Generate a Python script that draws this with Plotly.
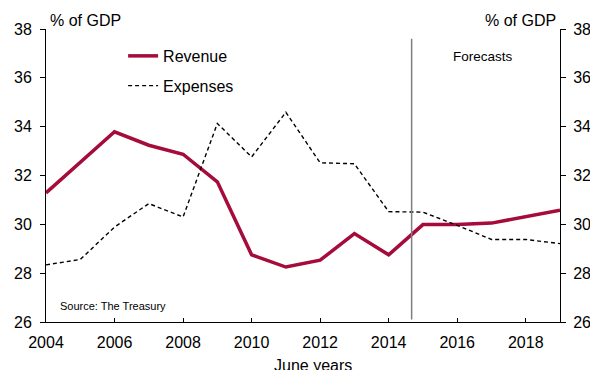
import plotly.graph_objects as go

years = list(range(2004, 2020))
revenue = [31.29, 32.53, 33.79, 33.24, 32.87, 31.74, 28.75, 28.25, 28.53, 29.62, 28.75,
           29.99, 29.99, 30.05, 30.33, 30.58]
expenses = [28.34, 28.56, 29.89, 30.85, 30.30, 34.13, 32.76, 34.59, 32.52, 32.48, 30.52,
            30.50, 29.96, 29.38, 29.38, 29.21]
forecast_start = 2014.67
y_ticks = [26, 28, 30, 32, 34, 36, 38]
x_ticks = [2004, 2006, 2008, 2010, 2012, 2014, 2016, 2018]

FONT = "Liberation Sans, Arial, sans-serif"
RED = "#A50B3B"

fig = go.Figure()
fig.add_trace(go.Scatter(x=years, y=revenue, mode="lines", name="Revenue",
                         line=dict(color=RED, width=3.5), legendgroup="a"))
fig.add_trace(go.Scatter(x=years, y=expenses, mode="lines", name="Expenses",
                         line=dict(color="black", width=1.4, dash="4px,3px"), legendgroup="b"))
fig.add_trace(go.Scatter(x=years, y=expenses, mode="lines", yaxis="y2", showlegend=False,
                         hoverinfo="skip", line=dict(color="rgba(0,0,0,0)", width=0)))

fig.add_shape(type="line", x0=forecast_start, x1=forecast_start, y0=26.1, y1=37.6,
              xref="x", yref="y", line=dict(color="#7f7f7f", width=1.5))

axis_common = dict(showgrid=False, zeroline=False, showline=True, linecolor="black",
                   linewidth=1, ticks="outside", ticklen=5, tickcolor="black",
                   automargin=False,
                   tickfont=dict(family=FONT, size=16, color="black"))

fig.update_layout(
    width=590, height=370,
    margin=dict(l=46, r=30, t=29, b=48),
    paper_bgcolor="white", plot_bgcolor="white",
    font=dict(family=FONT, color="black"),
    xaxis=dict(range=[2004, 2019], tickvals=x_ticks, showgrid=False, zeroline=False,
               showline=True, linecolor="black", linewidth=1, ticks="inside", ticklen=4,
               tickcolor="black", automargin=False, ticklabelstandoff=6,
               tickfont=dict(family=FONT, size=16, color="black")),
    yaxis=dict(range=[26, 38], tickvals=y_ticks, side="left", ticklabelstandoff=5,
               **axis_common),
    yaxis2=dict(range=[26, 38], tickvals=y_ticks, side="right", overlaying="y",
                ticklabelstandoff=4, **axis_common),
    showlegend=True,
    legend=dict(x=0.15, y=0.966, xanchor="left", yanchor="top", traceorder="grouped",
                tracegroupgap=6, bgcolor="rgba(0,0,0,0)",
                font=dict(family=FONT, size=16, color="black")),
    annotations=[
        dict(text="% of GDP", x=0, y=1, xref="paper", yref="paper", yanchor="bottom",
             yshift=-2, xshift=2, xanchor="left", showarrow=False, font=dict(size=16)),
        dict(text="% of GDP", x=1, xref="paper", y=1, yref="paper", xanchor="right",
             yanchor="bottom", yshift=-2, xshift=-2, showarrow=False, font=dict(size=16)),
        dict(text="Forecasts", x=2016.75, xref="x", y=36.89, yref="y", showarrow=False,
             font=dict(size=13.5)),
        dict(text="Source: The Treasury", x=2004.35, xref="x", y=26.65, yref="y",
             xanchor="left", showarrow=False, font=dict(size=11)),
        dict(text="June years", x=2011.8, xref="x", y=-0.15, yref="paper",
             yanchor="middle", showarrow=False, font=dict(size=16)),
    ],
)

fig.write_html("out.html")
